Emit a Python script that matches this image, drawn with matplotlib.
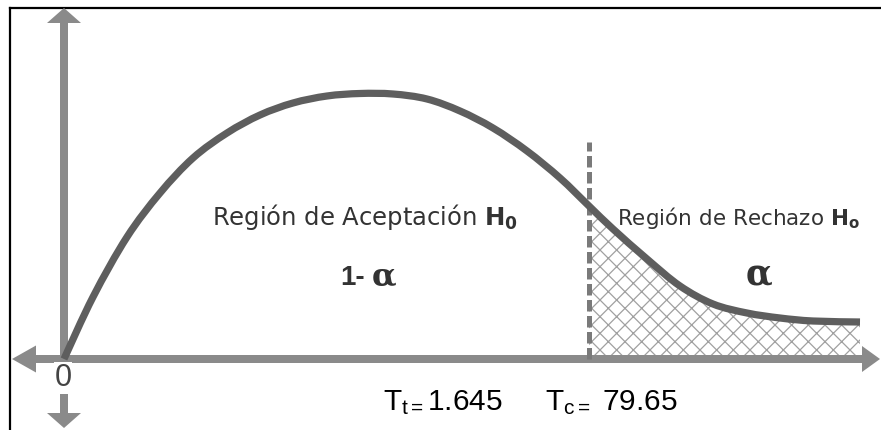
import matplotlib
matplotlib.use("Agg")
import matplotlib.pyplot as plt
from matplotlib.path import Path
from matplotlib.patches import PathPatch
import numpy as np

plt.rcParams['font.family'] = ['Liberation Sans', 'DejaVu Sans']
plt.rcParams['mathtext.fontset'] = 'custom'
plt.rcParams['mathtext.rm'] = 'Liberation Sans'
plt.rcParams['mathtext.bf'] = 'DejaVu Sans:bold'
plt.rcParams['mathtext.it'] = 'Liberation Sans:italic'
plt.rcParams['hatch.linewidth'] = 0.9

# ---- data (1 unit = 1 pixel, origin at the axes crossing) ----
curve_x = [0, 29, 63, 96, 129, 163, 196, 229, 263, 296, 329, 363, 396,
           429, 463, 496, 525, 549, 583, 616, 649, 683, 716, 749, 796]
curve_y = [0, 62, 122, 166, 201, 226, 244, 256, 263, 265.5, 265, 260, 248,
           231, 208, 181, 153, 130, 100, 73, 55, 46, 41, 38, 37]
t_crit = 525          # position of the critical value (dashed line)
dash_top = 217        # top of the dashed line
x_min, x_max = -52, 816
y_min, y_max = -69, 351

label_accept = r"Región de Aceptación $\mathbf{H_0}$"
label_reject = r"Región de Rechazo $\mathbf{H_o}$"
label_one_minus = "1-"
label_alpha = "α"
label_origin = "0"
label_tt = r"T$_{\mathrm{t=}}$1.645"
label_tc = r"T$_{\mathrm{c=}}$ 79.65"


def smooth_path(xs, ys):
    """Catmull-Rom curve through the given points, as cubic Bezier segments."""
    P = np.column_stack([xs, ys]).astype(float)
    n = len(P)
    verts = [P[0]]
    codes = [Path.MOVETO]
    for i in range(n - 1):
        p0 = P[i - 1] if i > 0 else P[i]
        p1, p2 = P[i], P[i + 1]
        p3 = P[i + 2] if i + 2 < n else P[i + 1]
        c1 = p1 + (p2 - p0) / 6.0
        c2 = p2 - (p3 - p1) / 6.0
        verts += [c1, c2, p2]
        codes += [Path.CURVE4] * 3
    return verts, codes


W, H = 881, 430
fig = plt.figure(figsize=(W / 100, H / 100), dpi=100)
ax = fig.add_axes([0, 0, 1, 1])
ax.set_xlim(-64, W - 64)
ax.set_ylim(359 - H, 359)
ax.axis('off')

axis_col = '#8a8a8a'
curve_col = '#5e5e5e'

# border (top and left)
ax.plot([-54, W - 64], [351.5, 351.5], color='black', lw=1.6, clip_on=False, zorder=1)
ax.plot([-54, -54], [351.5, 359 - H], color='black', lw=1.6, clip_on=False, zorder=1)

# hatched rejection region (under the smooth curve, right of the critical value)
k = curve_x.index(t_crit)
tv, tc = smooth_path(curve_x[k:], curve_y[k:])
reg_verts = [(t_crit, 0)] + [(v[0], v[1]) for v in tv] + [(curve_x[-1], 0), (t_crit, 0)]
reg_codes = [Path.MOVETO, Path.LINETO] + tc[1:] + [Path.LINETO, Path.CLOSEPOLY]
ax.add_patch(PathPatch(Path(reg_verts, reg_codes), facecolor='none',
                       edgecolor='#a0a0a0', hatch='xx', linewidth=0, zorder=2))

# axes with arrows
kw = dict(length_includes_head=True, color=axis_col, lw=0, zorder=3)
ax.arrow(0, 0, 0, y_max, width=8, head_width=34, head_length=15, **kw)
ax.arrow(0, 0, 0, y_min, width=8, head_width=34, head_length=15, **kw)
ax.arrow(0, 0, x_min, 0, width=8, head_width=27, head_length=24, **kw)
ax.arrow(0, 0, x_max, 0, width=8, head_width=26, head_length=18, **kw)

# dashed critical line
ax.plot([t_crit, t_crit], [0, dash_top], color='#7a7a7a', lw=3.6,
        dashes=(2.3, 0.9), zorder=4, solid_capstyle='butt')

# smooth curve
cv, cc = smooth_path(curve_x, curve_y)
ax.add_patch(PathPatch(Path(cv, cc), facecolor='none', edgecolor=curve_col,
                       lw=5.2, capstyle='butt', zorder=5))

# texts
txt_col = '#333333'
ax.text(148, 134, label_accept, fontsize=17.5, color=txt_col, family=['DejaVu Sans'],
        ha='left', va='baseline', zorder=6)
ax.text(553, 134, label_reject, fontsize=15.5, color=txt_col, family=['DejaVu Sans'],
        ha='left', va='baseline', zorder=6)
ax.text(276, 74, label_one_minus, fontsize=20, fontweight='bold', color=txt_col,
        ha='left', va='baseline', zorder=6)
ax.text(308, 74, label_alpha, fontsize=23, fontweight='bold', color=txt_col,
        family=['DejaVu Serif'], ha='left', va='baseline', zorder=6)
ax.text(682, 74, label_alpha, fontsize=25, fontweight='bold', color=txt_col,
        family=['DejaVu Serif'], ha='left', va='baseline', zorder=6)
ax.text(-1, -19, label_origin, fontsize=22, color='#444444', ha='center', va='center',
        zorder=6, bbox=dict(boxstyle='square,pad=0.02', facecolor='white', edgecolor='none'))
ax.text(319, -51, label_tt, fontsize=21.5, color='black', ha='left', va='baseline', zorder=6)
ax.text(481, -51, label_tc, fontsize=21.5, color='black', ha='left', va='baseline', zorder=6)

fig.savefig('out.png', dpi=100)
